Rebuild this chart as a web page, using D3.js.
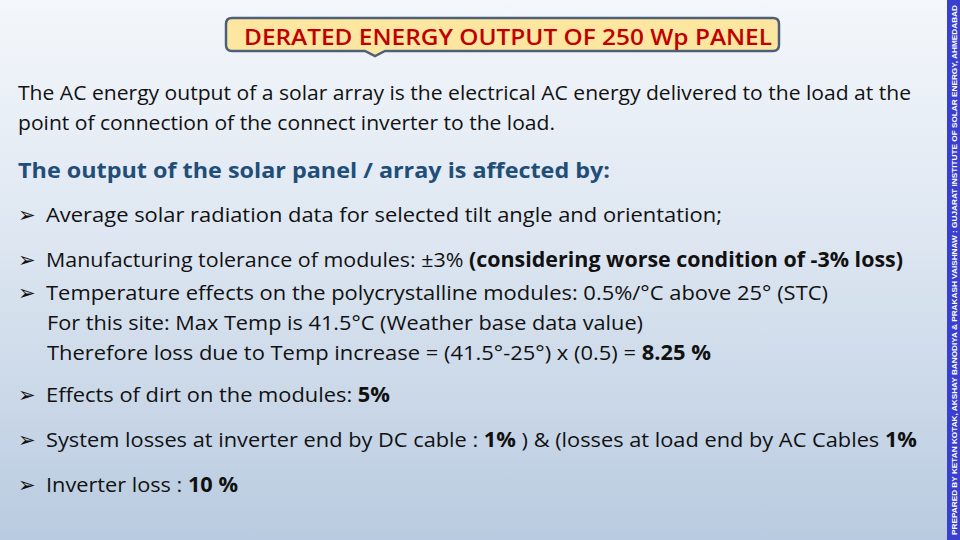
<!DOCTYPE html>
<html><head><meta charset="utf-8">
<script src="https://cdn.jsdelivr.net/npm/d3@7"></script>
<style>body{margin:0}svg{display:block}</style>
</head><body>
<script>
const titleText = "DERATED ENERGY OUTPUT OF 250 Wp PANEL";
const sideText = "PREPARED BY KETAN KOTAK, AKSHAY BANODIYA & PRAKASH VAISHNAW : GUJARAT INSTITUTE OF SOLAR ENERGY, AHMEDABAD";
// each line: [x, y, bullet, right edge, segments [text,bold]]
const lines = [
  [18, 100, false, 911, [["The AC energy output of a solar array is the electrical AC energy delivered to the load at the",0]]],
  [18, 130, false, 555, [["point of connection of the connect inverter to the load.",0]]],
  [18, 222, true, 722, [["Average solar radiation data for selected tilt angle and orientation;",0]]],
  [18, 267, true, 903, [["Manufacturing tolerance of modules: ±3% ",0],["(considering worse condition of -3% loss)",1]]],
  [18, 300, true, 828, [["Temperature effects on the polycrystalline modules: 0.5%/°C above 25° (STC)",0]]],
  [47, 330, false, 643, [["For this site: Max Temp is 41.5°C (Weather base data value)",0]]],
  [47, 360, false, 711, [["Therefore loss due to Temp increase = (41.5°-25°) x (0.5) = ",0],["8.25 %",1]]],
  [18, 402, true, 390, [["Effects of dirt on the modules: ",0],["5%",1]]],
  [18, 447, true, 917, [["System losses at inverter end by DC cable : ",0],["1%",1],[" ) & (losses at load end by AC Cables ",0],["1%",1]]],
  [18, 492, true, 238, [["Inverter loss : ",0],["10 %",1]]]
];
const subhead = "The output of the solar panel / array is affected by:";

const svg = d3.select("body").append("svg").attr("width",960).attr("height",540);
const defs = svg.append("defs");
const g = defs.append("linearGradient").attr("id","bg").attr("x1",0).attr("y1",0).attr("x2",0).attr("y2",1);
g.append("stop").attr("offset","0%").attr("stop-color","#f4f7fb");
g.append("stop").attr("offset","45%").attr("stop-color","#dde6f1");
g.append("stop").attr("offset","100%").attr("stop-color","#b9cbe0");
svg.append("rect").attr("width",960).attr("height",540).attr("fill","url(#bg)");

// sidebar
svg.append("rect").attr("x",947).attr("y",0).attr("width",13).attr("height",540).attr("fill","#3a3fd0");
svg.append("text").attr("transform","translate(956.5,535) rotate(-90)")
  .attr("font-family","Liberation Sans, Arial").attr("font-size",7.5).attr("font-weight","bold")
  .attr("fill","#ffffff").attr("textLength",530).attr("lengthAdjust","spacingAndGlyphs").text(sideText);

// title callout
const path = d3.path();
path.moveTo(232,18); path.lineTo(773,18); path.quadraticCurveTo(779,18,779,24);
path.lineTo(779,45); path.quadraticCurveTo(779,51,773,51);
path.lineTo(385,51); path.lineTo(375,56); path.lineTo(365,51);
path.lineTo(232,51); path.quadraticCurveTo(226,51,226,45);
path.lineTo(226,24); path.quadraticCurveTo(226,18,232,18); path.closePath();
svg.append("path").attr("d",path.toString()).attr("fill","#fde7a0").attr("stroke","#4d6079").attr("stroke-width",2.5);
svg.append("text").attr("x",508).attr("y",45).attr("text-anchor","middle")
  .attr("font-family","Open Sans, sans-serif").attr("font-size",22).attr("font-weight",600).attr("fill","#c00000")
  .attr("textLength",528).attr("lengthAdjust","spacingAndGlyphs").text(titleText);

const font = "Open Sans, sans-serif";
svg.append("text").attr("x",18).attr("y",178).attr("font-family",font).attr("font-size",21)
  .attr("font-weight","bold").attr("fill","#1f4e79").attr("textLength",592).attr("lengthAdjust","spacingAndGlyphs").text(subhead);

lines.forEach(([x,y,bullet,right,segs])=>{
  let tx = x;
  if(bullet){
    svg.append("text").attr("x",x).attr("y",y).attr("font-family","DejaVu Sans").attr("font-size",21).attr("font-weight","bold").attr("fill","#111").text("➢");
    tx = x + 28;
  }
  const t = svg.append("text").attr("x",tx).attr("y",y).attr("font-family",font).attr("font-size",20.5).attr("fill","#111")
    .attr("textLength",right-tx).attr("lengthAdjust","spacingAndGlyphs");
  segs.forEach(([s,b])=>t.append("tspan").attr("font-weight",b?"bold":"normal").text(s));
});
</script>
</body></html>
